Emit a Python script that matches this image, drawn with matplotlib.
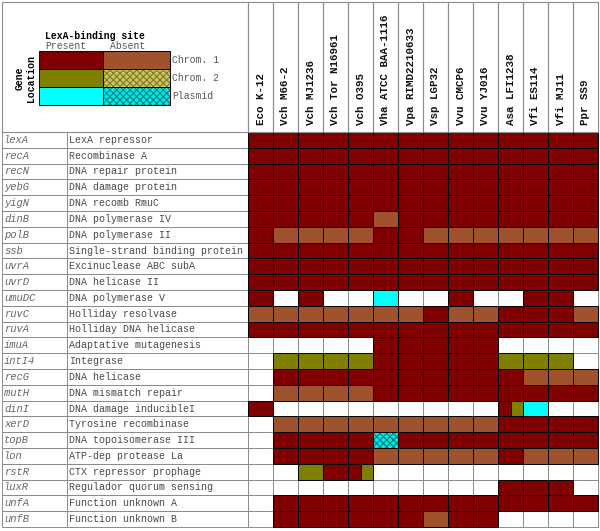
import matplotlib.pyplot as plt
from matplotlib.patches import Rectangle

plt.rcParams['hatch.linewidth'] = 0.8

strains = ['Eco K-12', 'Vch M66-2', 'Vch MJ1236', 'Vch Tor N16961', 'Vch O395',
           'Vha ATCC BAA-1116', 'Vpa RIMD2210633', 'Vsp LGP32', 'Vvu CMCP6',
           'Vvu YJ016', 'Asa LFI1238', 'Vfi ES114', 'Vfi MJ11', 'Ppr SS9']

genes = ['lexA', 'recA', 'recN', 'yebG', 'yigN', 'dinB', 'polB', 'ssb', 'uvrA',
         'uvrD', 'umuDC', 'ruvC', 'ruvA', 'imuA', 'intI4', 'recG', 'mutH', 'dinI',
         'xerD', 'topB', 'lon', 'rstR', 'luxR', 'unfA', 'unfB']

functions = ['LexA repressor', 'Recombinase A', 'DNA repair protein',
             'DNA damage protein', 'DNA recomb RmuC', 'DNA polymerase IV',
             'DNA polymerase II', 'Single-strand binding protein',
             'Excinuclease ABC subA', 'DNA helicase II', 'DNA polymerase V',
             'Holliday resolvase', 'Holliday DNA helicase', 'Adaptative mutagenesis',
             'Integrase', 'DNA helicase', 'DNA mismatch repair',
             'DNA damage inducibleI', 'Tyrosine recombinase', 'DNA topoisomerase III',
             'ATP-dep protease La', 'CTX repressor prophage', 'Regulador quorum sensing',
             'Function unknown A', 'Function unknown B']

# R: chrom1 + site, B: chrom1 no site, O: chrom2 + site, o: chrom2 no site,
# C: plasmid + site, c: plasmid no site, '.': gene missing, 'X|Y': two copies
status = [
    'R R R R R R R R R R R R R R',
    'R R R R R R R R R R R R R R',
    'R R R R R R R R R R R R R R',
    'R R R R R R R R R R R R R R',
    'R R R R R R R R R R R R R R',
    'R R R R R B R R R R R R R R',
    'R B B B B R R B B B B B B B',
    'R R R R R R R R R R R R R R',
    'R R R R R R R R R R R R R R',
    'R R R R R R R R R R R R R R',
    'R . R . . C . . R . . R R .',
    'B B B B B B B R B B R R R B',
    'R R R R R R R R R R R R R R',
    '. . . . . R R R R R . . . .',
    '. O O O O R R R R R O O O .',
    '. R R R R R R R R R R B B B',
    '. B B B B R R R R R R R R R',
    'R . . . . . . . . . R|O C . .',
    '. B B B B B B B B B R R R R',
    '. R R R R c R R R R R R R R',
    '. R R R R B B B B B R B B B',
    '. . O R R|O . . . . . . . . .',
    '. . . . . . . . . . R R R .',
    '. R R R R R R R R R R R R R',
    '. R R R R R R B R R . . . .',
]

colors = {'R': '#800000', 'B': '#A0522D', 'O': '#808000', 'o': '#C8C078',
          'C': '#00FFFF', 'c': '#00E8E8'}
hatches = {'o': '#808000', 'c': '#008080'}

fig = plt.figure(figsize=(6, 5.31), dpi=100)
ax = fig.add_axes([0, 0, 1, 1])
ax.set_xlim(0, 600)
ax.set_ylim(531, 0)
ax.axis('off')

x0, cw = 248, 25
y0, rh = 132, 15.8
grey = '#8c8c8c'
mono = 'Liberation Mono'


def cell(x, y, w, h, code):
    if code in hatches:
        ax.add_patch(Rectangle((x, y), w, h, facecolor=colors[code],
                               edgecolor=hatches[code], hatch='xxxxx', lw=0))
        ax.add_patch(Rectangle((x, y), w, h, fill=False, edgecolor='black', lw=0.7))
    else:
        ax.add_patch(Rectangle((x, y), w, h, facecolor=colors[code],
                               edgecolor='black', lw=0.7))


# white cells first, grey grid
for i in range(len(genes)):
    y = y0 + i * rh
    ax.add_patch(Rectangle((2, y), 65, rh, fill=False, edgecolor=grey, lw=0.7))
    ax.add_patch(Rectangle((67, y), x0 - 67, rh, fill=False, edgecolor=grey, lw=0.7))
    for j in range(len(strains)):
        ax.add_patch(Rectangle((x0 + j * cw, y), cw, rh, fill=False,
                               edgecolor=grey, lw=0.7))
    ax.text(4, y + rh / 2, genes[i], family=mono, style='italic', fontsize=7.6,
            color='#666666', va='center')
    ax.text(69, y + rh / 2, functions[i], family=mono, fontsize=7.2,
            color='#4a4a4a', va='center')

for i, row in enumerate(status):
    y = y0 + i * rh
    for j, code in enumerate(row.split()):
        if code == '.':
            continue
        parts = code.split('|')
        w = cw / len(parts)
        for k, p in enumerate(parts):
            cell(x0 + j * cw + k * w, y, w, rh, p)

# header
for j, s in enumerate(strains):
    xl = x0 + j * cw
    ax.add_patch(Rectangle((xl, 2), cw, y0 - 2, fill=False, edgecolor=grey, lw=0.8))
    ax.text(xl + cw / 2, 125, s, family=mono, fontweight='bold', fontsize=7.8,
            rotation=90, ha='center', va='bottom', color='#111111')
ax.add_patch(Rectangle((2, 2), x0 - 2, y0 - 2, fill=False, edgecolor=grey, lw=0.8))

# legend
ax.text(45, 36, 'LexA-binding site', family=mono, fontweight='bold', fontsize=7,
        va='center')
ax.text(45, 46, 'Present', family=mono, fontsize=7, va='center', color='#555555')
ax.text(110, 46, 'Absent', family=mono, fontsize=7, va='center', color='#555555')
leg_rows = [('R', 'B', 'Chrom. 1'), ('O', 'o', 'Chrom. 2'), ('C', 'c', 'Plasmid')]
for i, (p, a, lab) in enumerate(leg_rows):
    y = 51 + i * 18
    cell(39, y, 64, 18, p)
    cell(103, y, 67, 18, a)
    ax.text(172, y + 9, lab, family=mono, fontsize=7, va='center', color='#555555')
ax.text(20, 78, 'Gene', family=mono, fontweight='bold', fontsize=7, rotation=90,
        ha='center', va='center')
ax.text(31, 78, 'Location', family=mono, fontweight='bold', fontsize=7, rotation=90,
        ha='center', va='center')

fig.savefig('out.png', dpi=100)
